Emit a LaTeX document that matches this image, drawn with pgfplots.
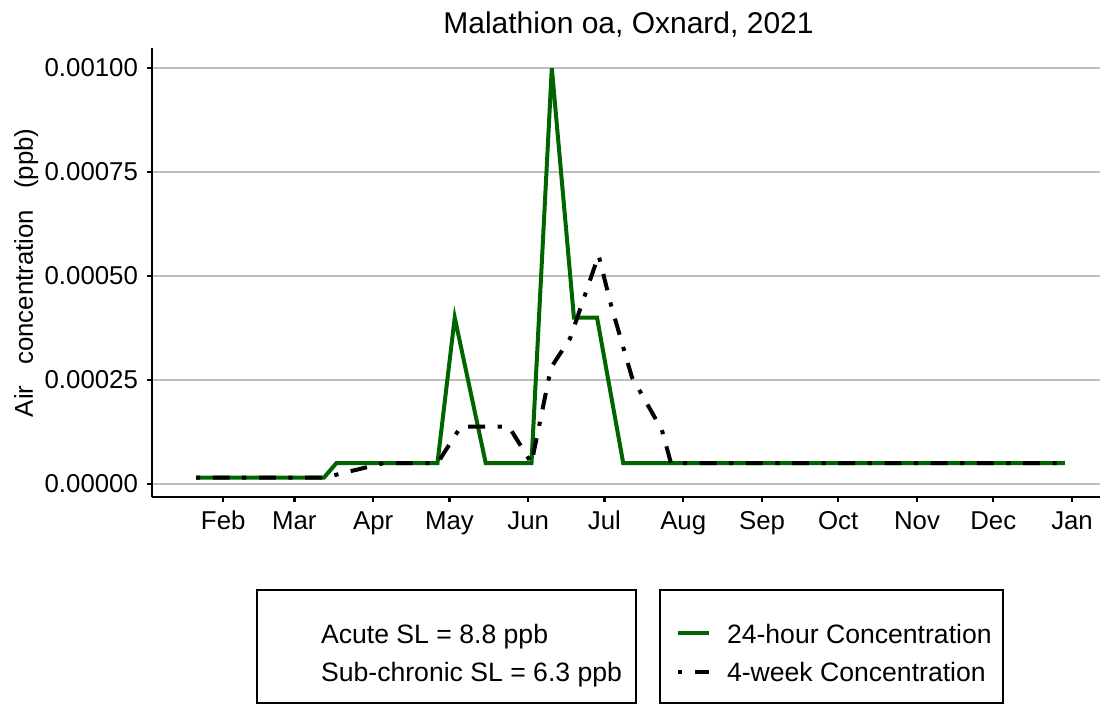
\documentclass[border=0pt]{standalone}
\usepackage{fontspec}
\setmainfont{Liberation Sans}
\usepackage{pgfplots}
\usepackage{pgfplotstable}
\pgfplotsset{compat=1.18}
\definecolor{daygreen}{RGB}{0,100,0}
\definecolor{gridgray}{RGB}{190,190,190}

% 24-hour samples (day of year, ppb)
\pgfplotstableread{
day conc
21.3 0.000015
71.6 0.000015
76.5 0.00005
116.3 0.00005
123.1 0.0004
135.3 0.00005
153.3 0.00005
161.3 0.001
170.0 0.0004
179.1 0.0004
189.4 0.00005
363.2 0.00005
}\dayconc

% 4-week rolling concentration
\pgfplotstableread{
day conc
21.3 0.000015
71.6 0.000015
95.0 0.00005
116.3 0.00005
125.5 0.000138
144.4 0.000138
153.3 0.00005
161.0 0.00028
168.5 0.00035
179.7 0.00055
184.6 0.00043
192.8 0.000257
204.6 0.00013
208.2 0.00005
363.2 0.00005
}\weekconc

\begin{document}
\begin{tikzpicture}
\path[use as bounding box] (0,0) rectangle (550pt,352pt);
\begin{axis}[
  at={(75.85pt,103.35pt)}, anchor=south west,
  scale only axis, width=474.15pt, height=224.5pt,
  xmin=3.86, xmax=377, ymin=-0.00003197, ymax=0.0010474,
  axis x line*=bottom, axis y line*=left,
  axis line style={line width=1.15pt, black},
  tick align=outside, major tick length=2.5pt,
  tick style={line width=1.15pt, black},
  xtick={32,60,91,121,152,182,213,244,274,305,335,366},
  xticklabels={Feb,Mar,Apr,May,Jun,Jul,Aug,Sep,Oct,Nov,Dec,Jan},
  ytick={0,0.00025,0.0005,0.00075,0.001},
  yticklabels={0.00000,0.00025,0.00050,0.00075,0.00100},
  scaled y ticks=false,
  ymajorgrids, major grid style={gridgray, line width=0.9pt},
  every tick label/.append style={font=\fontsize{12.9}{15}\selectfont, inner sep=0pt},
  x tick label style={anchor=base, yshift=-13.85pt},
  y tick label style={anchor=east, xshift=-4.2pt},
  title={Malathion oa, Oxnard, 2021},
  title style={at={(axis description cs:0.5028,1)}, anchor=base, yshift=1.15pt,
    font=\fontsize{15}{18}\selectfont, inner sep=0pt},
  ylabel={Air\hspace{10.5pt}concentration\hspace{10.5pt}(ppb)},
  every axis y label/.style={at={(axis description cs:-0.1252,0.5)}, rotate=90,
    anchor=base, inner sep=0pt, font=\fontsize{12.9}{15}\selectfont},
  legend cell align=left,
  legend image code/.code={\draw[#1] (0pt,5pt) -- (15.5pt,5pt);},
  legend style={at={(axis description cs:0.5529,-0.2811)}, anchor=north west,
    draw=none, fill=none, inner sep=0pt, outer sep=0pt, row sep=6.25pt,
    font=\fontsize{13.3}{16}\selectfont,
    nodes={inner sep=0pt, text height=10pt, text depth=3pt, anchor=base west},
    /tikz/every odd column/.append style={column sep=8pt}},
]
\addplot[daygreen, line width=2pt] table[x=day, y=conc] {\dayconc};
\addlegendentry{24-hour Concentration}
\addplot[black, line width=2pt, dash pattern=on 2.1pt off 6.3pt on 8.4pt off 6.3pt]
  table[x=day, y=conc] {\weekconc};
\addlegendentry{4-week Concentration}
\end{axis}
\draw[line width=1.15pt] (128.65pt,0.65pt) rectangle (317.85pt,57pt);
\draw[line width=1.15pt] (330pt,0.65pt) rectangle (501.65pt,57pt);
\node[anchor=base west, inner sep=0pt, font=\fontsize{13.3}{16}\selectfont]
  at (160.35pt,30.25pt) {Acute SL = 8.8 ppb};
\node[anchor=base west, inner sep=0pt, font=\fontsize{13.3}{16}\selectfont]
  at (160.35pt,11pt) {Sub-chronic SL = 6.3 ppb};
\end{tikzpicture}
\end{document}
